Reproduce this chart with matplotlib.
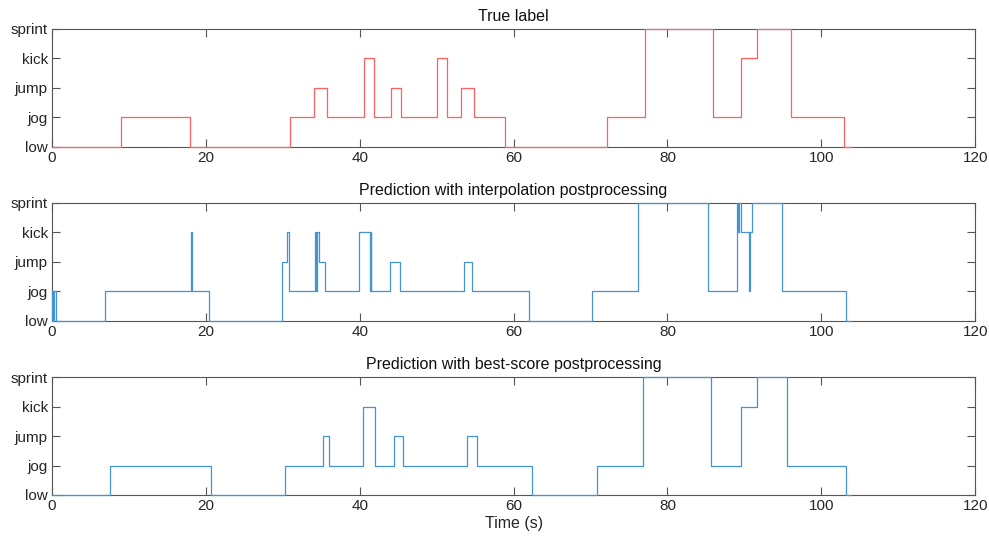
from matplotlib import pyplot as plt
import numpy as np

# activity levels: 0 low, 1 jog, 2 jump, 3 kick, 4 sprint
level_names = ['low', 'jog', 'jump', 'kick', 'sprint']

# True label: change times (s) and level from that time on
true_t = [0, 9.0, 17.9, 31.0, 34.0, 35.8, 40.6, 41.8, 44.1, 45.4, 50.1, 51.4,
          53.1, 54.9, 58.9, 72.1, 77.1, 85.9, 89.6, 91.6, 96.0, 102.9, 103.9]
true_y = [0, 1, 0, 1, 2, 1, 3, 1, 2, 1, 3, 1,
          2, 1, 0, 1, 4, 1, 3, 4, 1, 0, 0]

# Prediction with interpolation postprocessing
interp_t = [0, 0.05, 0.15, 0.25, 0.5, 6.9, 18.1, 18.25, 20.35, 29.95, 30.5, 30.85,
            34.25, 34.35, 34.45, 34.65, 35.5, 39.85, 41.3, 41.4, 41.5, 41.6,
            43.95, 45.2, 53.5, 54.6, 62.0, 70.2, 76.2, 85.3,
            89.0, 89.15, 89.3, 89.55, 90.6, 90.75, 91.0, 94.9, 103.2, 103.9]
interp_y = [0, 1, 0, 1, 0, 1, 3, 1, 0, 2, 3, 1,
            3, 1, 3, 2, 1, 3, 1, 3, 1, 1,
            2, 1, 2, 1, 0, 1, 4, 1,
            4, 3, 4, 3, 1, 3, 4, 1, 0, 0]

# Prediction with best-score postprocessing
best_t = [0, 7.5, 20.7, 30.3, 35.2, 36.0, 40.4, 41.95, 44.4, 45.6, 54.0, 55.2,
          62.4, 70.8, 76.8, 85.6, 89.5, 91.6, 95.6, 103.2, 103.9]
best_y = [0, 1, 0, 1, 2, 1, 3, 1, 2, 1, 2, 1,
          0, 1, 4, 1, 3, 4, 1, 0, 0]

titles = ['True label',
          'Prediction with interpolation postprocessing',
          'Prediction with best-score postprocessing']
series = [(true_t, true_y, '#ff6060'),
          (interp_t, interp_y, '#4394d4'),
          (best_t, best_y, '#4394d4')]

plt.rcParams['font.family'] = ['Liberation Sans', 'DejaVu Sans']

fig = plt.figure(figsize=(9.89, 5.43), dpi=100)
tops = [0.9466, 0.6262, 0.3057]
h = 0.2173
for i in range(3):
    ax = fig.add_axes([0.0526, tops[i] - h, 0.9334, h])
    t, y, c = series[i]
    ax.step(t, y, where='post', color=c, lw=0.9, clip_on=False, zorder=3)
    ax.set_xlim(0, 120)
    ax.set_ylim(0, 4)
    ax.set_xticks(np.arange(0, 121, 20))
    ax.set_yticks(range(5))
    ax.set_yticklabels(level_names)
    ax.tick_params(direction='in', length=5.5, width=0.8, top=True, right=True,
                   labelsize=11, colors='#262626', pad=3)
    ax.tick_params(color='#555555')
    for s in ax.spines.values():
        s.set_color('#555555')
        s.set_linewidth(0.8)
    ax.set_title(titles[i], fontsize=11.5, color='#111111', pad=6)
    if i == 2:
        ax.set_xlabel('Time (s)', fontsize=11.5, color='#262626', labelpad=2)

plt.savefig('out.png', dpi=100)
